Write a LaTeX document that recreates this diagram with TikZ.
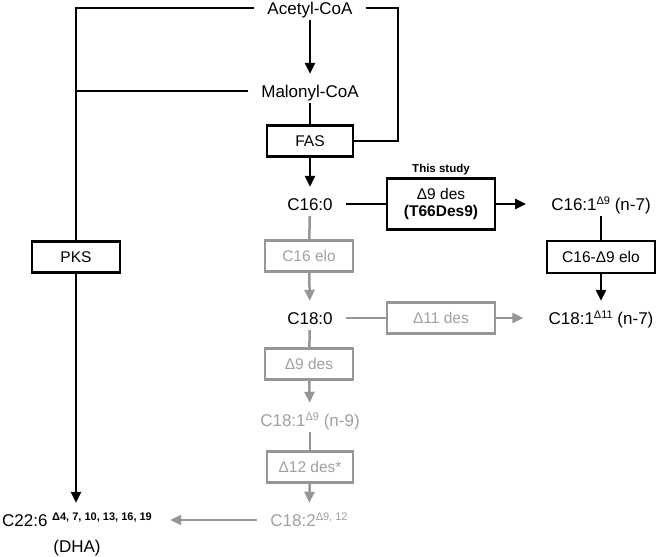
\documentclass[tikz,border=0pt]{standalone}
\usepackage{fontspec}
\setmainfont{Liberation Sans}
\usetikzlibrary{arrows.meta,positioning,calc}
\definecolor{pathgray}{RGB}{150,150,150}
\definecolor{labelgray}{RGB}{160,160,160}
\newcommand{\dsup}[1]{\raisebox{6pt}{\fontsize{11}{11}\selectfont #1}}
\tikzset{
  acid/.style={inner xsep=13pt, inner ysep=6pt, font=\fontsize{17}{20}\selectfont, text height=12pt, text depth=0pt},
  enz/.style={draw, line width=2.2pt, font=\fontsize{15.5}{18}\selectfont, minimum height=31pt, inner sep=0pt},
  link/.style={line width=2.5pt},
  flow/.style={line width=2.5pt, -{Triangle[length=11pt,width=10pt]}, shorten >=5pt},
  faded/.style={pathgray, text=labelgray}
}
\begin{document}
\begin{tikzpicture}[x=1pt,y=-1pt]
		\useasboundingbox (0,0) rectangle (657,557);

		% fatty acids
		\node[acid] (acetyl) at (310,8) {Acetyl-CoA};
		\node[acid] (malonyl) at (310,91) {Malonyl-CoA};
		\node[acid] (c160) at (310,204) {C16:0};
		\node[acid] (c180) at (310,318) {C18:0};
		\node[acid, text=labelgray] (c181n9) at (310,420) {C18:1\dsup{Δ9} (n-9)};
		\node[acid, text=labelgray] (c182) at (309,520) {C18:2\dsup{Δ9, 12}};
		\node[acid] (c161) at (601,204) {C16:1\dsup{Δ9} (n-7)};
		\node[acid] (c181n7) at (601,318) {C18:1\dsup{Δ11} (n-7)};
		\node[acid] (c226) at (77,520) {C22:6 \dsup{\bfseries Δ4, 7, 10, 13, 16, 19}};
		\node[font=\fontsize{17}{20}\selectfont] (dha) at (77,548) {(DHA)};

		% enzymes
		\node[enz, minimum width=86pt] (fas) at (310,141) {FAS};
		\node[enz, minimum width=88pt] (pks) at (76,257) {PKS};
		\node[enz, minimum width=108pt, minimum height=51pt, align=center] (t66) at (441,204) {Δ9 des\\[-1pt]\textbf{(T66Des9)}};
		\node[font=\bfseries\fontsize{11.5}{13}\selectfont, inner sep=1pt, above=1pt of t66] (study) {This study};
		\node[enz, minimum width=108pt, minimum height=32pt] (c16d9elo) at (601,257) {C16-Δ9 elo};
		\node[enz, faded, minimum width=88pt] (c16elo) at (309,256) {C16 elo};
		\node[enz, faded, minimum width=108pt] (d11des) at (441,318) {Δ11 des};
		\node[enz, faded, minimum width=88pt] (d9des) at (309,364) {Δ9 des};
		\node[enz, faded, minimum width=86pt] (d12des) at (310,467) {Δ12 des*};

		% black route
		\draw[flow] (acetyl) -- (malonyl);
		\draw[link] (malonyl) -- (fas);
		\draw[flow] (fas) -- (c160);
		\draw[link] (acetyl.east) -| ($(fas.east)+(44,0)$) -- (fas.east);
		\draw[link] (acetyl.west) -| (pks.north);
		\draw[link] (malonyl.west) -- (malonyl.west -| pks.north);
		\draw[flow] (pks.south) -- (pks.south |- c226.north);
		\draw[link] (c160) -- (t66);
		\draw[flow, shorten >=12pt] (t66) -- (c161);
		\draw[link] (c161) -- (c16d9elo);
		\draw[flow] (c16d9elo) -- (c181n7);

		% grey route
		\draw[link, pathgray] (c160) -- (c16elo);
		\draw[flow, pathgray] (c16elo) -- (c180);
		\draw[link, pathgray] (c180) -- (d11des);
		\draw[flow, pathgray, shorten >=12pt] (d11des) -- (c181n7);
		\draw[link, pathgray] (c180) -- (d9des);
		\draw[flow, pathgray] (d9des) -- (c181n9);
		\draw[link, pathgray] (c181n9) -- (d12des);
		\draw[flow, pathgray] (d12des) -- (c182);
		\draw[flow, pathgray] (c182) -- (c226);
	\end{tikzpicture}
\end{document}
